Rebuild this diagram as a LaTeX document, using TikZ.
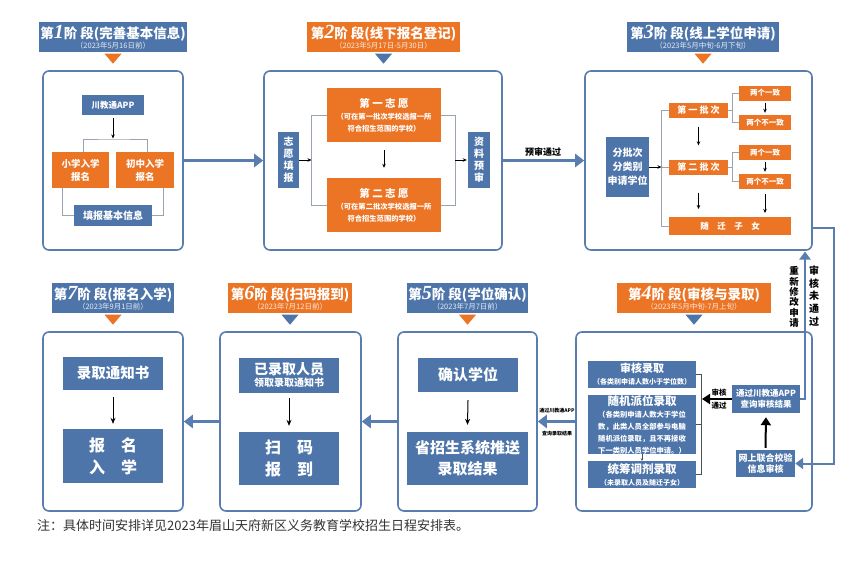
\documentclass[tikz,border=0pt]{standalone}
\usepackage{fontspec}
\setmainfont{Noto Sans CJK SC}
\newfontfamily\numfont{Liberation Serif}
\usetikzlibrary{arrows.meta}
\definecolor{cblue}{HTML}{4E75AA}
\definecolor{pblue}{HTML}{5A7DB0}
\definecolor{corange}{HTML}{EC7425}
\definecolor{lgray}{HTML}{9AA3B0}
\definecolor{dgray}{HTML}{505050}
\definecolor{notec}{HTML}{333333}
\newcommand\fsz[2]{\fontsize{#1}{#2}\selectfont}
\newcommand\bn[1]{{\numfont\fsz{20}{15}\bfseries\itshape #1}}
\tikzset{
  x=1pt, y=-1pt,
  panel/.style={draw=pblue, line width=1.6pt, rounded corners=6pt, fill=white, inner sep=0},
  bbox/.style={fill=cblue, text=white, font=\bfseries, align=center, inner sep=0},
  obox/.style={fill=corange, text=white, font=\bfseries, align=center, inner sep=0},
  hdrb/.style={fill=cblue, inner sep=0, minimum height=30},
  hdro/.style={fill=corange, inner sep=0, minimum height=30},
  htitle/.style={text=white, font=\fsz{13.5}{15}\bfseries, inner sep=0},
  hsub/.style={text=white, text opacity=0.85, font=\fsz{7.5}{8}, inner sep=0},
  brk/.style={draw=lgray, line width=0.8pt},
  dbrk/.style={draw=dgray, line width=0.8pt},
  sarr/.style={draw=black, line width=0.7pt, -{Stealth[length=4pt,width=3.5pt]}},
  conn/.style={draw=pblue, line width=2.6pt, -{Triangle[length=9pt,width=13pt]}},
  thconn/.style={draw=pblue, line width=2pt, -{Triangle[length=8pt,width=11pt]}},
  bigarr/.style={draw=black, line width=2pt, -{Triangle[length=8pt,width=10pt]}},
  lbl/.style={text=black, font=\bfseries, inner sep=0, align=center},
}
\begin{document}
\begin{tikzpicture}
\useasboundingbox[fill=white] (0,0) rectangle (856,560);

% ---------- panels ----------
\node[panel, minimum width=140, minimum height=179] (p1) at (113,160.5) {};
\node[panel, minimum width=238, minimum height=179] (p2) at (383,160.5) {};
\node[panel, minimum width=227, minimum height=179] (p3) at (698.5,160.5) {};
\node[panel, minimum width=236, minimum height=179] (p4) at (694,421.5) {};
\node[panel, minimum width=139, minimum height=179] (p5) at (467.5,421.5) {};
\node[panel, minimum width=141, minimum height=179] (p6) at (290.5,421.5) {};
\node[panel, minimum width=140, minimum height=179] (p7) at (113,421.5) {};

% ---------- headers ----------
\node[hdrb, minimum width=148] (h1) at (113,37) {};
\node[htitle] (t1) at ([yshift=4pt]h1.center) {第\bn{1}阶 段(完善基本信息)};
\node[hsub] (s1) at ([yshift=-8.5pt]h1.center) {（2023年5月16日前）};
\fill[corange] ([shift={(-8.5pt,-1.5pt)}]h1.south) -- ([shift={(8.5pt,-1.5pt)}]h1.south) -- ([shift={(0pt,-11.5pt)}]h1.south) -- cycle;

\node[hdro, minimum width=153] (h2) at (383.5,37) {};
\node[htitle] (t2) at ([yshift=4pt]h2.center) {第\bn{2}阶 段(线下报名登记)};
\node[hsub] (s2) at ([yshift=-8.5pt]h2.center) {（2023年5月17日-5月30日）};
\fill[cblue] ([shift={(-8.5pt,-1.5pt)}]h2.south) -- ([shift={(8.5pt,-1.5pt)}]h2.south) -- ([shift={(0pt,-11.5pt)}]h2.south) -- cycle;

\node[hdrb, minimum width=152] (h3) at (703,37) {};
\node[htitle] (t3) at ([yshift=4pt]h3.center) {第\bn{3}阶 段(线上学位申请)};
\node[hsub] (s3) at ([yshift=-8.5pt]h3.center) {（2023年5月中旬-6月下旬）};
\fill[corange] ([shift={(-8.5pt,-1.5pt)}]h3.south) -- ([shift={(8.5pt,-1.5pt)}]h3.south) -- ([shift={(0pt,-11.5pt)}]h3.south) -- cycle;

\node[hdro, minimum width=154] (h4) at (694,298) {};
\node[htitle] (t4) at ([yshift=4pt]h4.center) {第\bn{4}阶 段(审核与录取)};
\node[hsub] (s4) at ([yshift=-8.5pt]h4.center) {（2023年5月中旬-7月上旬）};
\fill[cblue] ([shift={(-8.5pt,-1.5pt)}]h4.south) -- ([shift={(8.5pt,-1.5pt)}]h4.south) -- ([shift={(0pt,-11.5pt)}]h4.south) -- cycle;

\node[hdrb, minimum width=121] (h5) at (467.5,298) {};
\node[htitle] (t5) at ([yshift=4pt]h5.center) {第\bn{5}阶 段(学位确认)};
\node[hsub] (s5) at ([yshift=-8.5pt]h5.center) {（2023年7月7日前）};
\fill[corange] ([shift={(-8.5pt,-1.5pt)}]h5.south) -- ([shift={(8.5pt,-1.5pt)}]h5.south) -- ([shift={(0pt,-11.5pt)}]h5.south) -- cycle;

\node[hdro, minimum width=124] (h6) at (290,298) {};
\node[htitle] (t6) at ([yshift=4pt]h6.center) {第\bn{6}阶 段(扫码报到)};
\node[hsub] (s6) at ([yshift=-8.5pt]h6.center) {（2023年7月12日前）};
\fill[cblue] ([shift={(-8.5pt,-1.5pt)}]h6.south) -- ([shift={(8.5pt,-1.5pt)}]h6.south) -- ([shift={(0pt,-11.5pt)}]h6.south) -- cycle;

\node[hdrb, minimum width=122] (h7) at (113,298) {};
\node[htitle] (t7) at ([yshift=4pt]h7.center) {第\bn{7}阶 段(报名入学)};
\node[hsub] (s7) at ([yshift=-8.5pt]h7.center) {（2023年9月1日前）};
\fill[corange] ([shift={(-8.5pt,-1.5pt)}]h7.south) -- ([shift={(8.5pt,-1.5pt)}]h7.south) -- ([shift={(0pt,-11.5pt)}]h7.south) -- cycle;

% ---------- panel 1 ----------
\node[bbox, minimum width=62, minimum height=20, font=\fsz{8.5}{10}\bfseries] (a1) at (113,105) {川教通APP};
\node[obox, minimum width=57, minimum height=36, font=\fsz{9.5}{13}\bfseries] (a2) at (80.5,170) {小学入学\\报名};
\node[obox, minimum width=58, minimum height=36, font=\fsz{9.5}{13}\bfseries] (a3) at (145,170) {初中入学\\报名};
\node[bbox, minimum width=78, minimum height=21, font=\fsz{10}{12}\bfseries] (a4) at (113,215.5) {填报基本信息};
\draw[brk] ([xshift=2.5pt]a2.north) |- (113,139) -| ([xshift=2pt]a3.north);
\draw[sarr] ([yshift=-3pt]a1.south) -- (113,138.5);
\draw[brk] ([xshift=-18.5pt]a2.south) |- (a4.west);
\draw[brk] ([xshift=18pt]a3.south) |- (a4.east);

% ---------- panel 2 ----------
\node[bbox, minimum width=21, minimum height=56, font=\fsz{10}{12}\bfseries] (b1) at (288.5,160) {志\\愿\\填\\报};
\node[obox, minimum width=114, minimum height=54] (b2) at (384,115) {{\fsz{10.5}{14}\bfseries 第 一 志 愿}\\{\fsz{7.3}{10}\bfseries （可在第一批次学校选报一所}\\{\fsz{7.3}{10}\bfseries 符合招生范围的学校）}};
\node[obox, minimum width=114, minimum height=54] (b3) at (384,205) {{\fsz{10.5}{14}\bfseries 第 二 志 愿}\\{\fsz{7.3}{10}\bfseries （可在第二批次学校选报一所}\\{\fsz{7.3}{10}\bfseries 符合招生范围的学校）}};
\node[bbox, minimum width=22, minimum height=56, font=\fsz{10}{12}\bfseries] (b4) at (479,160) {资\\料\\预\\审};
\draw[brk] (b2.west) -- ++(-15,0) |- (b3.west);
\draw[brk] (b2.east) -- ++(14,0) |- (b3.east);
\draw[sarr] (b1.east) -- (311.5,160);
\draw[sarr] (455,160) -- ([xshift=-1pt]b4.west);
\draw[sarr] ([yshift=-8pt]b2.south) -- ([yshift=10pt]b3.north);

% ---------- panel 3 ----------
\node[bbox, minimum width=43, minimum height=60, font=\fsz{10}{14}\bfseries] (c1) at (627.5,167) {分批次\\分类别\\申请学位};
\node[obox, minimum width=59, minimum height=15, font=\fsz{9}{10}\bfseries] (c2) at (698.5,110) {第 一 批 次};
\node[obox, minimum width=59, minimum height=15, font=\fsz{9}{10}\bfseries] (c3) at (698.5,167) {第 二 批 次};
\node[obox, minimum width=122, minimum height=18, font=\fsz{8.5}{10}\bfseries] (c4) at (730,226) {随　迁　子　女};
\node[obox, minimum width=52, minimum height=15, font=\fsz{7.5}{9}\bfseries] (d1) at (765,93) {两个一致};
\node[obox, minimum width=52, minimum height=15, font=\fsz{7.5}{9}\bfseries] (d2) at (765,122.5) {两个不一致};
\node[obox, minimum width=52, minimum height=15, font=\fsz{7.5}{9}\bfseries] (d3) at (765,152.5) {两个一致};
\node[obox, minimum width=52, minimum height=15, font=\fsz{7.5}{9}\bfseries] (d4) at (765,181.5) {两个不一致};
\draw[brk] (c2.west) -- ++(-7,0) |- (c4.west);
\draw[sarr] (c1.east) -- (661.5,167);
\draw[brk] (662,167) -- (c3.west);
\draw[brk] (c2.east) -- (733,110);
\draw[brk] (d1.west) -- ++(-6,0) |- (d2.west);
\draw[brk] (c3.east) -- (733,167);
\draw[brk] (d3.west) -- ++(-6,0) |- (d4.west);
\draw[sarr] ([yshift=-2pt]d1.south) -- ([yshift=2pt]d2.north);
\draw[sarr] ([yshift=-2pt]d3.south) -- ([yshift=2pt]d4.north);
\coordinate (c4d) at (765,213);
\draw[sarr] ([yshift=-5pt]d4.south) -- (c4d);
\draw[sarr] ([yshift=-9pt]c2.south) -- ([yshift=14pt]c3.north);
\coordinate (c4c) at (698.5,209);
\draw[sarr] ([yshift=-18pt]c3.south) -- (c4c);

% ---------- panel 4 ----------
\node[bbox, minimum width=108, minimum height=27] (e1) at (642,374.5) {{\fsz{11}{13}\bfseries 审核录取}\\{\fsz{7}{9}\bfseries （各类别申请人数小于学位数）}};
\node[bbox, minimum width=108, minimum height=57] (e2) at (642,424.5) {{\fsz{11.5}{14}\bfseries 随机派位录取}\\{\fsz{7.3}{9.6}\bfseries （各类别申请人数大于学位}\\{\fsz{7.3}{9.6}\bfseries 数，此类人员全部参与电脑}\\{\fsz{7.3}{9.6}\bfseries 随机派位录取，且不再接收}\\{\fsz{7.3}{9.6}\bfseries 下一类别人员学位申请。）}};
\node[bbox, minimum width=108, minimum height=27] (e3) at (642,474.5) {{\fsz{11.5}{13}\bfseries 统筹调剂录取}\\{\fsz{7}{9}\bfseries （未录取人员及随迁子女）}};
\draw[dbrk] (e1.east) -- (701,374.5) -- (701,474.5) -- (e3.east);
\draw[dbrk] (e2.east) -- (701,424.5);
\draw[draw=dgray, line width=0.5pt, -{Stealth[length=2.5pt,width=2.5pt]}] (e2.south) -- (e3.north);
\node[bbox, minimum width=68, minimum height=28, font=\fsz{8.5}{11}\bfseries] (f1) at (766,399) {通过川教通APP\\查询审核结果};
\node[bbox, minimum width=59, minimum height=27, font=\fsz{9}{11}\bfseries] (f2) at (765.5,463.5) {网上联合校验\\信息审核};
\draw[bigarr] (f1.west) -- (702,399);
\node[lbl, font=\fsz{7.5}{8}\bfseries] (l4a) at (719,392.5) {审核};
\node[lbl, font=\fsz{7.5}{8}\bfseries] (l4b) at (719,405.5) {通过};
\draw[bigarr, shorten <=2pt, shorten >=4pt] (f2.north) -- (f1.south);

% ---------- panel 5 ----------
\node[bbox, minimum width=100, minimum height=34, font=\fsz{15}{18}\bfseries] (g1) at (468,375) {确认学位};
\node[bbox, minimum width=121, minimum height=53, font=\fsz{15}{21}\bfseries] (g2) at (467.5,458.5) {省招生系统推送\\录取结果};
\draw[sarr, line width=1pt, -{Stealth[length=6pt,width=5pt]}] ([yshift=-8pt]g1.south) -- ([yshift=7pt]g2.north);

% ---------- panel 6 ----------
\node[bbox, minimum width=100, minimum height=35] (k1) at (289,375.5) {{\fsz{14}{16}\bfseries 已录取人员}\\{\fsz{10}{12}\bfseries 领取录取通知书}};
\node[bbox, minimum width=100, minimum height=53, font=\fsz{16}{22}\bfseries] (k2) at (289,458.5) {扫　码\\报　到};
\draw[sarr, line width=1pt, -{Stealth[length=6pt,width=5pt]}] ([yshift=-5pt]k1.south) -- ([yshift=6pt]k2.north);

% ---------- panel 7 ----------
\node[bbox, minimum width=100, minimum height=33, font=\fsz{14.5}{17}\bfseries] (m1) at (113,373.5) {录取通知书};
\node[bbox, minimum width=100, minimum height=54, font=\fsz{16}{22}\bfseries] (m2) at (113,456) {报　名\\入　学};
\draw[sarr, line width=1pt, -{Stealth[length=6pt,width=5pt]}] ([yshift=-7pt]m1.south) -- ([yshift=5pt]m2.north);

% ---------- connectors between panels ----------
\draw[conn] (p1.east) -- (p2.west);
\draw[conn] (p2.east) -- (p3.west);
\node[lbl, font=\fsz{9}{10}\bfseries] (lp) at (543,152) {预审通过};
\draw[conn] (p4.west) -- (p5.east);
\draw[conn] (p5.west) -- (p6.east);
\draw[conn] (p6.west) -- (p7.east);
\node[lbl, font=\fsz{5}{6}\bfseries] (lq1) at (557,411) {通过川教通APP};
\node[lbl, font=\fsz{5}{6}\bfseries] (lq2) at (557,434) {查询录取结果};

\draw[thconn] ([yshift=23pt]p3.south east) -- ++(21,0) |- (f2.east);
\coordinate (r1) at (805,251.5);
\draw[thconn] (f1.east) -| (r1);
\node[lbl, font=\fsz{10}{12.6}\bfseries] (lr1) at (814,296) {审\\核\\未\\通\\过};
\node[lbl, font=\fsz{9.5}{10.3}\bfseries] (lr2) at (794,297) {重\\新\\修\\改\\申\\请};

% ---------- note ----------
\node[anchor=west, inner sep=0, text=notec, font=\fsz{13}{14}] (note) at (37,526) {注：具体时间安排详见2023年眉山天府新区义务教育学校招生日程安排表。};
\end{tikzpicture}
\end{document}
